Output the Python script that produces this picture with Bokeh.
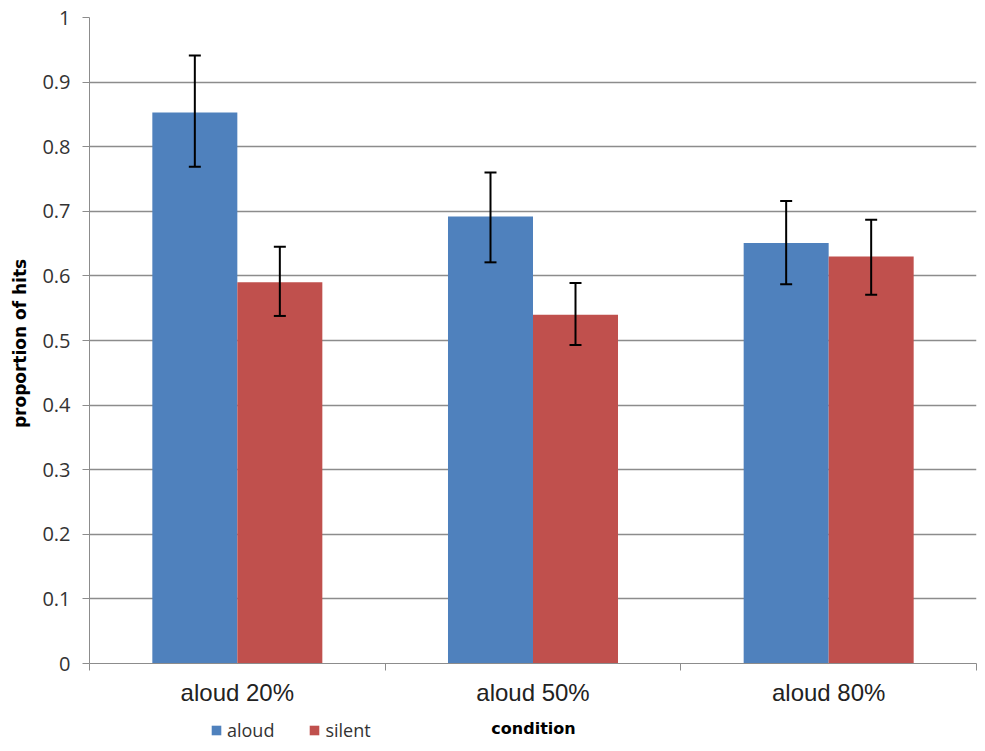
from bokeh.plotting import figure
from bokeh.layouts import column
from bokeh.models import (ColumnDataSource, Range1d, FixedTicker, Whisker, TeeHead,
                          Legend, LegendItem, Label)
from bokeh.embed import file_html
from bokeh.resources import INLINE

categories = ["aloud 20%", "aloud 50%", "aloud 80%"]
series = ["aloud", "silent"]
aloud_vals = [0.853, 0.692, 0.651]
aloud_err_low = [0.769, 0.621, 0.587]
aloud_err_high = [0.941, 0.760, 0.716]
silent_vals = [0.590, 0.540, 0.630]
silent_err_low = [0.538, 0.493, 0.571]
silent_err_high = [0.645, 0.589, 0.687]
y_ticks = [0, 0.1, 0.2, 0.3, 0.4, 0.5, 0.6, 0.7, 0.8, 0.9, 1]
y_tick_labels = ["0", "0.1", "0.2", "0.3", "0.4", "0.5", "0.6", "0.7", "0.8", "0.9", "1"]
x_title = "condition"
y_title = "proportion  of hits"
colors = ["#4F81BD", "#C0504D"]

BAR_W = 0.2875
W = 977
LEFT = 89
RIGHT = 1

p = figure(width=W, height=712, output_backend="svg", toolbar_location=None,
           x_range=Range1d(0, len(categories)), y_range=Range1d(0, 1),
           min_border_left=LEFT, min_border_right=RIGHT, min_border_top=17,
           min_border_bottom=49)
p.background_fill_color = "white"
p.border_fill_color = "white"
p.outline_line_color = None

idx = list(range(len(categories)))
src_a = ColumnDataSource(dict(x=[i + 0.5 - BAR_W / 2 for i in idx], top=aloud_vals,
                              lo=aloud_err_low, hi=aloud_err_high))
src_s = ColumnDataSource(dict(x=[i + 0.5 + BAR_W / 2 for i in idx], top=silent_vals,
                              lo=silent_err_low, hi=silent_err_high))

p.vbar(x="x", top="top", bottom=0, width=BAR_W, source=src_a,
       fill_color=colors[0], line_color=None)
p.vbar(x="x", top="top", bottom=0, width=BAR_W, source=src_s,
       fill_color=colors[1], line_color=None)

for src in (src_a, src_s):
    w = Whisker(base="x", lower="lo", upper="hi", source=src, level="overlay",
                line_color="black", line_width=2,
                upper_head=TeeHead(size=12, line_color="black", line_width=2),
                lower_head=TeeHead(size=12, line_color="black", line_width=2))
    p.add_layout(w)

# y axis
p.yaxis.ticker = FixedTicker(ticks=y_ticks)
p.yaxis.major_label_overrides = {t: l for t, l in zip(y_ticks, y_tick_labels)}
p.yaxis.axis_line_color = "#8c8c8c"
p.yaxis.major_tick_line_color = "#8c8c8c"
p.yaxis.major_tick_out = 7
p.yaxis.major_tick_in = 0
p.yaxis.minor_tick_line_color = None
p.yaxis.major_label_text_font = "Open Sans"
p.yaxis.major_label_text_font_size = "20px"
p.yaxis.major_label_text_color = "#333333"
p.yaxis.major_label_standoff = 12
p.yaxis.axis_label = y_title
p.yaxis.axis_label_text_font = "DejaVu Sans"
p.yaxis.axis_label_text_font_style = "bold"
p.yaxis.axis_label_text_font_size = "17px"
p.yaxis.axis_label_text_color = "black"
p.yaxis.axis_label_standoff = 9

# x axis
centers = [i + 0.5 for i in idx]
bounds = [float(i) for i in range(len(categories) + 1)]
p.xaxis.ticker = FixedTicker(ticks=centers, minor_ticks=bounds)
p.xaxis.major_label_overrides = {c: lab for c, lab in zip(centers, categories)}
p.xaxis.axis_line_color = "#8c8c8c"
p.xaxis.major_tick_line_color = None
p.xaxis.major_tick_out = 0
p.xaxis.major_tick_in = 0
p.xaxis.minor_tick_line_color = "#8c8c8c"
p.xaxis.minor_tick_out = 7
p.xaxis.minor_tick_in = 0
p.xaxis.major_label_text_font = "Liberation Sans"
p.xaxis.major_label_text_font_size = "24px"
p.xaxis.major_label_text_color = "#222222"
p.xaxis.major_label_standoff = 8

# grid
p.xgrid.grid_line_color = None
p.ygrid.ticker = FixedTicker(ticks=y_ticks)
p.ygrid.grid_line_color = "#8c8c8c"
p.ygrid.grid_line_width = 1.3

# bottom strip: legend + x-axis title (frame aligned with the main plot's frame)
H2 = 31
p2 = figure(width=W, height=H2, output_backend="svg", toolbar_location=None,
            x_range=Range1d(LEFT, W - RIGHT), y_range=Range1d(0, H2),
            min_border_left=LEFT, min_border_right=RIGHT, min_border_top=0,
            min_border_bottom=0, x_axis_type=None, y_axis_type=None)
p2.outline_line_color = None
p2.grid.grid_line_color = None
p2.background_fill_color = "white"
p2.border_fill_color = "white"
# zero-height bars: only used to supply legend swatches
la = p2.vbar(x="x", top="top", bottom="top", width=0, source=src_a,
             fill_color=colors[0], line_color=None)
ls = p2.vbar(x="x", top="top", bottom="top", width=0, source=src_s,
             fill_color=colors[1], line_color=None)
legend = Legend(items=[LegendItem(label=series[0], renderers=[la]),
                       LegendItem(label=series[1], renderers=[ls])],
                orientation="horizontal", location=(210 - LEFT, 1),
                glyph_width=12, glyph_height=12, label_height=18,
                label_text_font="Open Sans", label_text_font_size="18px",
                label_text_color="#333333", label_standoff=5, spacing=34,
                padding=0, margin=0, border_line_color=None, background_fill_alpha=0)
p2.add_layout(legend, "center")
p2.add_layout(Label(x=533, y=15, text=x_title, text_align="center", text_baseline="middle",
                    text_font="DejaVu Sans", text_font_style="bold", text_font_size="16px",
                    text_color="black"))

layout = column(p, p2, spacing=0)
open("out.html", "w").write(file_html(layout, INLINE))
